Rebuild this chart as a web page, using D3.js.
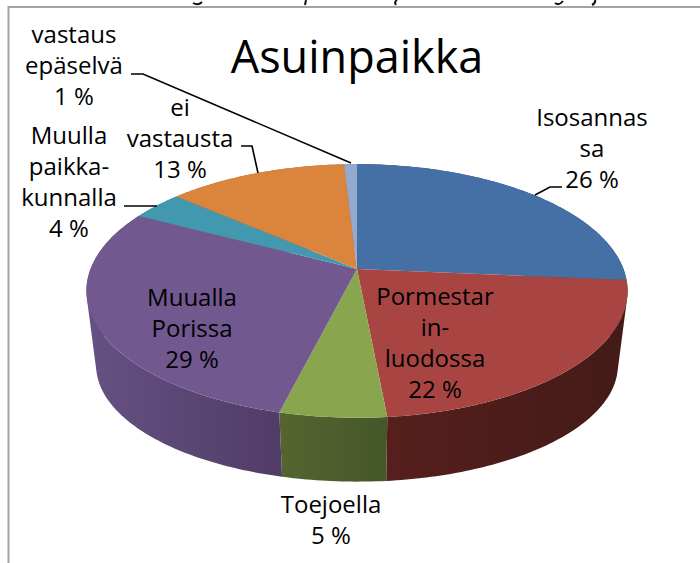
<!DOCTYPE html>
<html>
<head>
<meta charset="utf-8">
<script src="https://cdnjs.cloudflare.com/ajax/libs/d3/7.8.5/d3.min.js"></script>
<style>
html, body { margin: 0; padding: 0; background: #fff; overflow: hidden; }
text { font-family: "Open Sans", sans-serif; fill: #000; }
</style>
</head>
<body>
<svg id="chart" width="700" height="563"></svg>
<script>
var title = "Asuinpaikka";
var categories = ["Isosannas", "Pormestar", "Toejoella", "Muualla Porissa", "Muulla paikka", "ei vastausta", "vastaus epäselvä"];
var values = [26.4, 22.1, 5.4, 28.8, 3.7, 12.7, 0.9];
var labelLines = [
    ["Isosannas", "sa", "26 %"],
    ["Pormestar", "in-", "luodossa", "22 %"],
    ["Toejoella", "5 %"],
    ["Muualla", "Porissa", "29 %"],
    ["Muulla", "paikka-", "kunnalla", "4 %"],
    ["ei", "vastausta", "13 %"],
    ["vastaus", "epäselvä", "1 %"]
];
var labelAnchors = [[592, 188], [435, 398], [331, 544], [192, 368], [69, 237], [180, 178], [74, 105]];
var topColors = ["#4470a5", "#a84543", "#89a54e", "#71588f", "#4198af", "#db843d", "#93a9cf"];
var wallColors = [["#34567f", "#34567f"], ["#561f1c", "#431b18"], ["#56652f", "#45562a"], ["#665283", "#503c66"], ["#2f7080", "#2f7080"], ["#a5622c", "#a5622c"], ["#6f80a0", "#6f80a0"]];
var leaders = [
    [[535, 195], [550, 187], [562, 187]],
    [[124, 206], [157, 206]],
    [[241, 146], [252, 146], [258, 173]],
    [[131, 74], [143, 74], [351, 163]]
];
// what is left of the caption above the frame, too cut off to read
var captionFragments = ["M193,3Q198,6 202,2", "M306,0L305,5", "M397,0Q394,2 396,5", "M555,3Q559,6 563,1", "M592,5Q596,3 595,0"];

var svg = d3.select("#chart");
var cx = 357, k = 0.173;

// perspective mapping of the pie disc, top and bottom rim
function rim(a, x0, y0, sx, sy) {
    var x = Math.sin(a), y = Math.cos(a);
    return [x0 + sx * x / (1 + k * y), y0 - sy * y / (1 + k * y)];
}
function topRim(a) { return rim(a, cx, 269, 266.5, 123); }
function bottomRim(a) { return rim(a, cx, 345, 257, 113); }

var pie = d3.pie().sort(null).value(function(d) { return d; });
var arcs = pie(values);
var line = d3.line();

function samples(d) {
    var n = Math.max(4, Math.ceil((d.endAngle - d.startAngle) * 60));
    return d3.range(n + 1).map(function(i) {
        return d.startAngle + (d.endAngle - d.startAngle) * i / n;
    });
}

svg.append("g").selectAll("path")
    .data(captionFragments)
    .enter().append("path")
    .attr("d", function(d) { return d; })
    .attr("fill", "none")
    .attr("stroke", "#111")
    .attr("stroke-width", 2);

// frame, cut off by the crop on the right and at the bottom
svg.append("path")
    .attr("d", "M8.5,563V7H700")
    .attr("fill", "none")
    .attr("stroke", "#a3a3a3")
    .attr("stroke-width", 2);

var defs = svg.append("defs");
var walls = svg.append("g");
arcs.forEach(function(d, i) {
    var ts = samples(d);
    var top = ts.map(topRim), bottom = ts.map(bottomRim);
    var xs = top.concat(bottom).map(function(p) { return p[0]; });
    var g = defs.append("linearGradient")
        .attr("id", "wall" + i)
        .attr("gradientUnits", "userSpaceOnUse")
        .attr("x1", d3.min(xs)).attr("x2", d3.max(xs))
        .attr("y1", 0).attr("y2", 0);
    g.append("stop").attr("offset", 0).attr("stop-color", wallColors[i][0]);
    g.append("stop").attr("offset", 1).attr("stop-color", wallColors[i][1]);
    // all quads wound the same way, else the strip cancels itself where it folds at the silhouette
    var quads = d3.range(ts.length - 1).map(function(j) {
        var q = [top[j], top[j + 1], bottom[j + 1], bottom[j]];
        if (d3.polygonArea(q) < 0) q.reverse();
        return line(q) + "Z";
    }).join("");
    walls.append("path")
        .attr("d", quads)
        .attr("fill", "url(#wall" + i + ")");
});

var apex = [cx, 269];
svg.append("g").selectAll("path")
    .data(arcs)
    .enter().append("path")
    .attr("d", function(d) { return line([apex].concat(samples(d).map(topRim))) + "Z"; })
    .attr("fill", function(d, i) { return topColors[i]; });

svg.append("g").selectAll("path")
    .data(leaders)
    .enter().append("path")
    .attr("d", line)
    .attr("fill", "none")
    .attr("stroke", "#000")
    .attr("stroke-width", 1.6);

svg.append("text")
    .attr("x", 357)
    .attr("y", 73)
    .attr("text-anchor", "middle")
    .style("font-size", "45px")
    .text(title);

var lineHeight = 31;
var labels = svg.append("g").selectAll("text")
    .data(labelLines)
    .enter().append("text")
    .attr("text-anchor", "middle")
    .style("font-size", "24px");
labels.selectAll("tspan")
    .data(function(d, i) {
        return d.map(function(s, j) {
            return { s: s, x: labelAnchors[i][0], y: labelAnchors[i][1] - (d.length - 1 - j) * lineHeight };
        });
    })
    .enter().append("tspan")
    .attr("x", function(d) { return d.x; })
    .attr("y", function(d) { return d.y; })
    .text(function(d) { return d.s; });
</script>
</body>
</html>
